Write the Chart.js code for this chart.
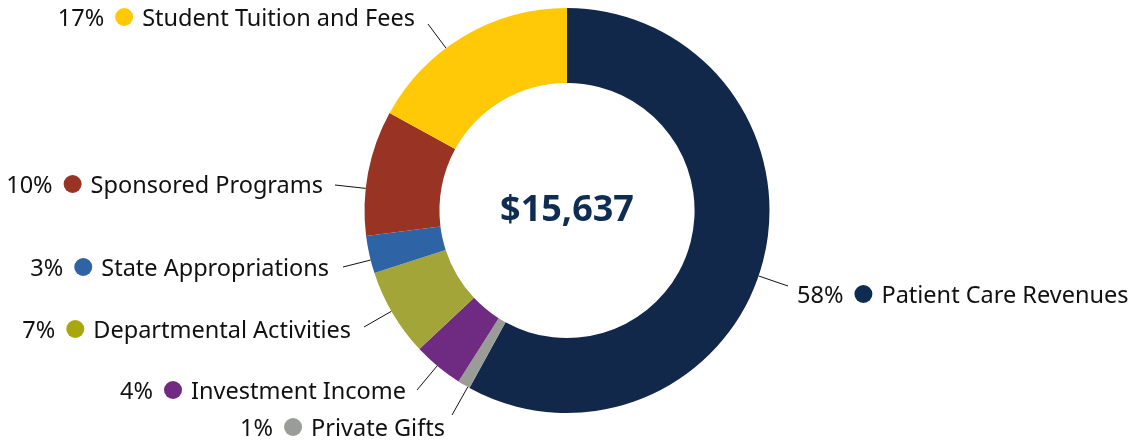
<!DOCTYPE html>
<html>
<head>
<meta charset="utf-8">
<script src="https://cdn.jsdelivr.net/npm/chart.js@4.4.1/dist/chart.umd.min.js"></script>
<style>
  html, body { margin: 0; padding: 0; background: #fff; }
  #wrap { width: 1138px; height: 444px; position: relative; }
</style>
</head>
<body>
<div id="wrap"><canvas id="chart-revenue" width="1138" height="444"></canvas></div>
<script>
'use strict';

// revenue sources, clockwise from 12 o'clock
var categories = [
    'Patient Care Revenues',
    'Private Gifts',
    'Investment Income',
    'Departmental Activities',
    'State Appropriations',
    'Sponsored Programs',
    'Student Tuition and Fees',
]
var shares = [58, 1, 4, 7, 3, 10, 17]
var totalLabel = '$15,637'

var sliceColors = ['#12284b', '#9a9c98', '#6f2b82', '#a3a538', '#2e64a6', '#993323', '#ffc907']
var dotColors = ['#0e2b52', '#9a9c98', '#702a82', '#a8a70e', '#2e64a6', '#993323', '#ffc907']

// where each label sits: side, text y, and the outer end of its leader line
var labelLayout = [
    { side: 'right', x: 797, y: 296, lx: 788, ly: 286 },
    { side: 'left', x: 445, y: 429, lx: 452, ly: 415 },
    { side: 'left', x: 406, y: 392, lx: 417, ly: 390 },
    { side: 'left', x: 351, y: 331, lx: 364, ly: 327 },
    { side: 'left', x: 329, y: 269, lx: 343, ly: 267 },
    { side: 'left', x: 323, y: 186, lx: 335, ly: 185 },
    { side: 'left', x: 415, y: 19, lx: 428, ly: 24 },
]

var fontFamily = '"Noto Sans", "Open Sans", sans-serif'

var labelsPlugin = {
    id: 'sliceLabels',
    afterDraw: function(chart) {
        var ctx = chart.ctx
        var meta = chart.getDatasetMeta(0)
        var arc = meta.data[0]
        var cx = arc.x
        var cy = arc.y
        var r = arc.outerRadius

        ctx.save()

        // center total
        ctx.fillStyle = '#0f2c52'
        ctx.font = 'bold 36px ' + fontFamily
        ctx.textAlign = 'center'
        ctx.textBaseline = 'middle'
        ctx.fillText(totalLabel, cx, cy)

        ctx.font = '23.5px ' + fontFamily
        ctx.textBaseline = 'middle'
        for (var i = 0; i < categories.length; i++) {
            var l = labelLayout[i]
            var pct = shares[i] + '%'

            // leader line, pointing at the center, stopping at the outer edge
            var dx = cx - l.lx
            var dy = cy - l.ly
            var d = Math.sqrt(dx * dx + dy * dy)
            var t = (d - r) / d
            ctx.strokeStyle = '#111'
            ctx.lineWidth = 1
            ctx.beginPath()
            ctx.moveTo(l.lx, l.ly)
            ctx.lineTo(l.lx + dx * t, l.ly + dy * t)
            ctx.stroke()

            var wPct = ctx.measureText(pct).width
            var wName = ctx.measureText(categories[i]).width
            var dotR = 9
            var total = wPct + 11 + dotR * 2 + 9 + wName
            var x0 = l.side == 'left' ? l.x - total : l.x

            ctx.fillStyle = '#111'
            ctx.textAlign = 'left'
            ctx.fillText(pct, x0, l.y)

            ctx.fillStyle = dotColors[i]
            ctx.beginPath()
            ctx.arc(x0 + wPct + 11 + dotR, l.y - 2, dotR, 0, Math.PI * 2)
            ctx.fill()

            ctx.fillStyle = '#111'
            ctx.fillText(categories[i], x0 + wPct + 11 + dotR * 2 + 9, l.y)
        }
        ctx.restore()
    }
}

function initChart() {
    var ctx = document.getElementById('chart-revenue').getContext('2d')
    new Chart(ctx, {
        type: 'doughnut',
        data: {
            labels: categories,
            datasets: [{
                data: shares,
                backgroundColor: sliceColors,
                hoverBackgroundColor: sliceColors,
                borderWidth: 0
            }]
        },
        options: {
            responsive: false,
            animation: false,
            cutout: '63%',
            layout: {
                padding: { top: 8, bottom: 31, left: 0, right: 4 }
            },
            plugins: {
                legend: { display: false },
                tooltip: { enabled: false }
            }
        },
        plugins: [labelsPlugin]
    })
}

initChart()
</script>
</body>
</html>
